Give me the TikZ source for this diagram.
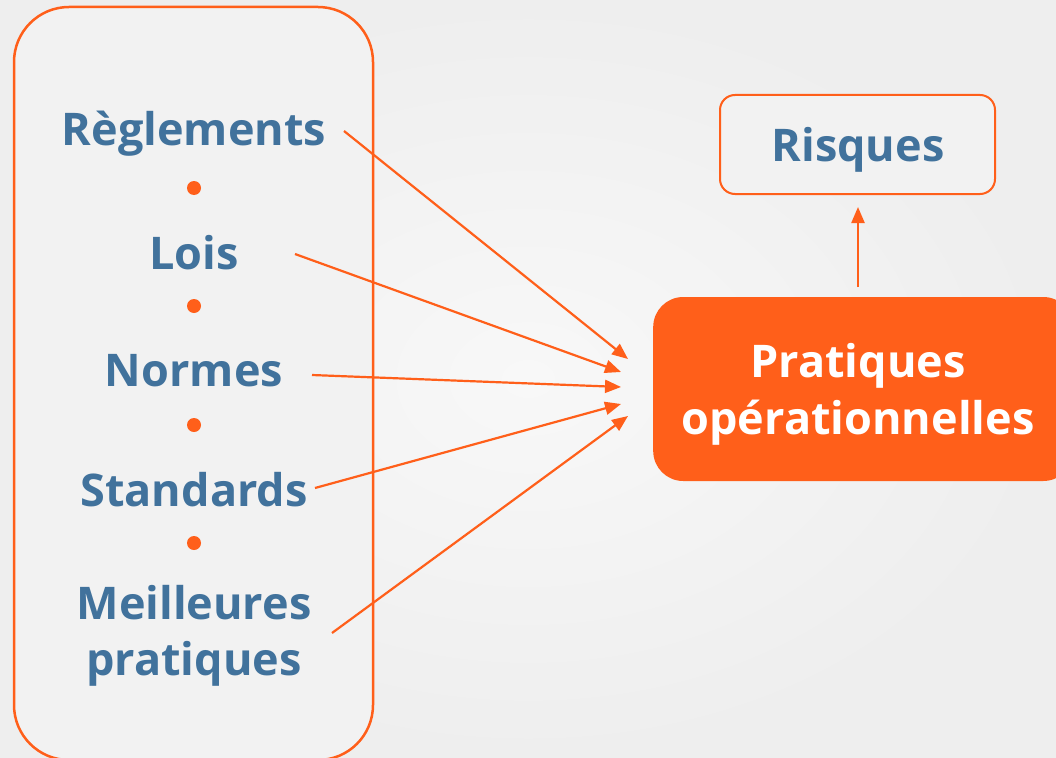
\documentclass[tikz,border=0pt]{standalone}
\usepackage{fontspec}
\setmainfont{Open Sans}
\usetikzlibrary{arrows.meta}
\definecolor{orng}{HTML}{FF5F1A}
\definecolor{tblue}{HTML}{41729C}
\definecolor{bgc}{HTML}{EEEEEE}
\definecolor{bgi}{HTML}{F8F8F8}
\definecolor{boxc}{HTML}{F2F2F2}
\tikzset{
  lbl/.style={text=tblue, font=\fontsize{45}{56}\selectfont\bfseries, inner sep=0pt, align=center},
  sep/.style={circle, fill=orng, minimum size=14pt, inner sep=0pt},
  conn/.style={draw=orng, line width=2.2pt, -{Triangle[length=16pt,width=13pt]}},
}
\begin{document}
\begin{tikzpicture}[x=1pt,y=-1pt]
\useasboundingbox (0,0) rectangle (1056,757);
\shade[inner color=bgi, outer color=bgc] (0,0) rectangle (1056,757);
\draw[orng, line width=2.5pt, fill=boxc, rounded corners=55pt] (14,7) rectangle (373,760);
\node[lbl] (reg) at (194,134) {Règlements};
\node[sep] (d1) at (194,188) {};
\node[lbl] (lois) at (194,253) {Lois};
\node[sep] (d2) at (194,306) {};
\node[lbl] (norm) at (194,371) {Normes};
\node[sep] (d3) at (194,425) {};
\node[lbl] (std) at (194,490) {Standards};
\node[sep] (d4) at (194,543) {};
\node[lbl] (meil) at (194,636) {Meilleures\\pratiques};
\node[draw=orng, line width=2pt, fill=boxc, rounded corners=15pt, minimum width=275pt, minimum height=99pt] (risk) at (857.5,144.5) {};
\node[lbl] (riskt) at (858,150) {Risques};
\node[fill=orng, rounded corners=30pt, minimum width=420pt, minimum height=184pt, anchor=west, inner sep=0pt] (prat) at (653,389) {};
\node[text=white, font=\fontsize{45}{57}\selectfont\bfseries, align=center, inner sep=0pt] (pratt) at (858,394) {Pratiques\\opérationnelles};
\coordinate (s1) at (344,131);
\coordinate (s2) at (295,254);
\coordinate (s3) at (312,375);
\coordinate (s4) at (315,488);
\coordinate (s5) at (332,633);
\coordinate (e1) at (628,359);
\coordinate (e2) at (621,372);
\coordinate (e3) at (621,387);
\coordinate (e4) at (621,404);
\coordinate (e5) at (628,416);
\coordinate (up0) at (858,287);
\coordinate (up1) at (858,207);
\draw[conn] (s1) -- (e1);
\draw[conn] (s2) -- (e2);
\draw[conn] (s3) -- (e3);
\draw[conn] (s4) -- (e4);
\draw[conn] (s5) -- (e5);
\draw[conn] (up0) -- (up1);
\end{tikzpicture}
\end{document}
